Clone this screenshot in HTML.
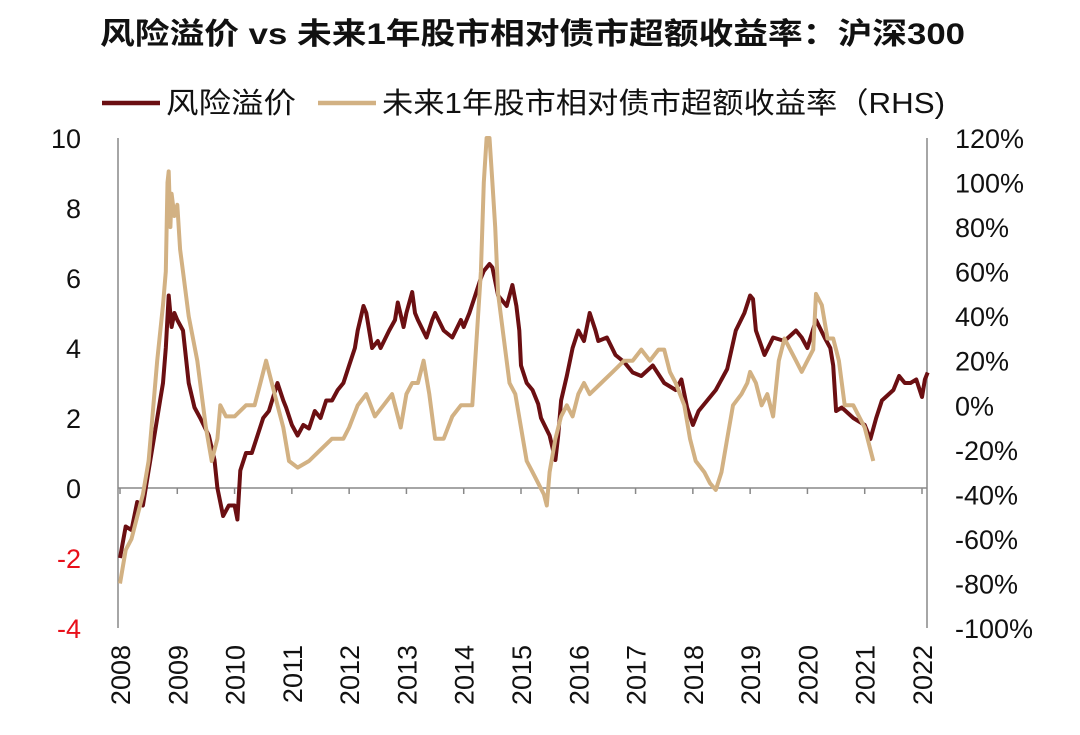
<!DOCTYPE html>
<html><head><meta charset="utf-8"><style>
body{margin:0;background:#fff;}
svg{display:block;font-family:"Liberation Sans","Noto Sans CJK SC",sans-serif;}
</style></head><body>
<svg id="chart" width="1080" height="735">
<text x="100" y="44" textLength="865" lengthAdjust="spacingAndGlyphs" font-size="30" font-weight="bold" fill="#111">风险溢价 vs 未来1年股市相对债市超额收益率：沪深300</text>
<g>
<line x1="102" y1="103" x2="160" y2="103" stroke="#6b0f12" stroke-width="4.5"/>
<text x="166" y="113" textLength="130" lengthAdjust="spacingAndGlyphs" font-size="29" fill="#111">风险溢价</text>
<line x1="318" y1="103" x2="376" y2="103" stroke="#d2b183" stroke-width="4.5"/>
<text x="382" y="113" textLength="563" lengthAdjust="spacingAndGlyphs" font-size="29" fill="#111">未来1年股市相对债市超额收益率（RHS)</text>
</g>
<g id="axes"></g>
<g id="series"></g>
</svg>
<script>
const leftTicks=[10,8,6,4,2,0,-2,-4];
const rightTicks=[120,100,80,60,40,20,0,-20,-40,-60,-80,-100];
const yearTicks=[2008,2009,2010,2011,2012,2013,2014,2015,2016,2017,2018,2019,2020,2021,2022];
const rpT=[2008.0,2008.1,2008.2,2008.3,2008.4,2008.5,2008.6,2008.7,2008.75,2008.8,2008.85,2008.9,2008.95,2009.0,2009.1,2009.2,2009.3,2009.4,2009.55,2009.65,2009.7,2009.8,2009.9,2010.0,2010.05,2010.1,2010.2,2010.3,2010.4,2010.5,2010.6,2010.75,2010.85,2010.9,2011.0,2011.1,2011.2,2011.3,2011.4,2011.5,2011.6,2011.7,2011.8,2011.9,2012.0,2012.1,2012.15,2012.25,2012.3,2012.4,2012.5,2012.55,2012.7,2012.8,2012.85,2012.95,2013.0,2013.1,2013.15,2013.2,2013.35,2013.45,2013.5,2013.65,2013.8,2013.95,2014.0,2014.1,2014.2,2014.3,2014.35,2014.45,2014.5,2014.6,2014.75,2014.85,2014.92,2014.97,2015.0,2015.1,2015.2,2015.3,2015.35,2015.5,2015.6,2015.65,2015.7,2015.8,2015.9,2016.0,2016.1,2016.2,2016.3,2016.35,2016.5,2016.65,2016.8,2016.95,2017.1,2017.3,2017.5,2017.7,2017.8,2017.9,2018.0,2018.1,2018.25,2018.4,2018.5,2018.6,2018.75,2018.9,2019.0,2019.05,2019.1,2019.25,2019.4,2019.6,2019.8,2019.9,2020.0,2020.15,2020.3,2020.4,2020.45,2020.5,2020.6,2020.8,2021.0,2021.1,2021.2,2021.3,2021.5,2021.6,2021.7,2021.8,2021.9,2022.0,2022.05,2022.1];
const rpV=[-2,-1.1,-1.2,-0.4,-0.5,0.5,1.5,2.5,3,4,5.5,4.6,5,4.8,4.5,3,2.3,2,1.5,0.8,0,-0.8,-0.5,-0.5,-0.9,0.5,1,1,1.5,2,2.2,3,2.5,2.3,1.8,1.5,1.8,1.7,2.2,2,2.5,2.5,2.8,3,3.5,4,4.5,5.2,5,4,4.2,4,4.5,4.8,5.3,4.6,5,5.6,5,4.8,4.3,4.8,5,4.5,4.3,4.8,4.6,5,5.5,6,6.2,6.4,6.3,5.5,5.2,5.8,5.2,4.5,3.5,3,2.8,2.4,2,1.5,0.8,1.5,2.5,3.2,4,4.5,4.2,5,4.5,4.2,4.3,3.8,3.6,3.3,3.2,3.5,3,2.8,3.1,2.3,1.8,2.2,2.5,2.8,3.1,3.4,4.5,5,5.5,5.4,4.5,3.8,4.3,4.2,4.5,4.3,4,4.8,4.3,4,3.5,2.2,2.3,2,1.8,1.4,2,2.5,2.8,3.2,3,3,3.1,2.6,3.1,3.3];
const erT=[2008.0,2008.1,2008.2,2008.3,2008.4,2008.5,2008.55,2008.65,2008.75,2008.8,2008.83,2008.85,2008.88,2008.9,2008.95,2009.0,2009.05,2009.1,2009.2,2009.35,2009.5,2009.6,2009.7,2009.75,2009.85,2010.0,2010.2,2010.35,2010.45,2010.55,2010.65,2010.75,2010.85,2010.95,2011.1,2011.3,2011.5,2011.7,2011.9,2012.0,2012.15,2012.3,2012.45,2012.6,2012.75,2012.9,2013.0,2013.1,2013.2,2013.3,2013.4,2013.5,2013.65,2013.8,2013.95,2014.05,2014.15,2014.2,2014.3,2014.35,2014.4,2014.45,2014.5,2014.55,2014.6,2014.7,2014.8,2014.9,2015.0,2015.1,2015.2,2015.3,2015.4,2015.45,2015.5,2015.6,2015.7,2015.8,2015.9,2016.0,2016.1,2016.2,2016.4,2016.6,2016.8,2016.95,2017.1,2017.25,2017.4,2017.5,2017.6,2017.7,2017.85,2017.95,2018.05,2018.2,2018.3,2018.4,2018.5,2018.6,2018.7,2018.85,2018.95,2019.0,2019.1,2019.2,2019.3,2019.4,2019.5,2019.6,2019.7,2019.8,2019.9,2020.0,2020.1,2020.15,2020.25,2020.35,2020.45,2020.55,2020.65,2020.8,2020.9,2021.0,2021.1,2021.15];
const erV=[-80,-65,-60,-50,-40,-25,-10,20,45,60,100,105,80,95,85,90,70,60,40,20,-10,-25,-15,0,-5,-5,0,0,10,20,10,0,-10,-25,-28,-25,-20,-15,-15,-10,0,5,-5,0,5,-10,5,10,10,20,5,-15,-15,-5,0,0,0,20,60,100,120,120,100,80,50,30,10,5,-10,-25,-30,-35,-40,-45,-30,-15,-5,0,-5,5,10,5,10,15,20,20,25,20,25,25,15,10,0,-15,-25,-30,-35,-38,-30,-15,0,5,10,15,10,0,5,-5,20,30,25,20,15,20,25,50,45,30,30,20,0,0,-5,-10,-20,-25];

const L=118,R=927,T=138,B=628;
const xS=y=>120+(y-2008)*(922-120)/14;
const yL=v=>T+(10-v)*(B-T)/14;
const yR=v=>T+(120-v)*(B-T)/220;
const ns="http://www.w3.org/2000/svg";
const axes=document.getElementById('axes'),series=document.getElementById('series');
function mk(tag,attrs,parent){const e=document.createElementNS(ns,tag);for(const k in attrs)e.setAttribute(k,attrs[k]);parent.appendChild(e);return e;}
let e=mk('line',{x1:L,y1:T,x2:L,y2:B,stroke:'#888','stroke-width':1.5},axes);


e=mk('line',{x1:R,y1:T,x2:R,y2:B,stroke:'#888','stroke-width':1.5},axes);


e=mk('line',{x1:L,y1:yL(0),x2:R,y2:yL(0),stroke:'#888','stroke-width':1.5},axes);


leftTicks.forEach(v=>{
 const t=mk('text',{x:81,y:yL(v)+10,'text-anchor':'end','font-size':27,fill:v<0?'#e8101a':'#111'},axes);
 t.textContent=v;
 
 
});
rightTicks.forEach(v=>{
 const t=mk('text',{x:955,y:yR(v)+10,'font-size':27,fill:'#111'},axes);
 t.textContent=v+'%';
 
 
});
yearTicks.forEach(y=>{
 const x=xS(y);
 const tk=mk('line',{x1:x,y1:yL(0),x2:x,y2:yL(0)+6,stroke:'#888','stroke-width':1.5},axes);
 
 
 const t=mk('text',{x:0,y:0,'font-size':27,fill:'#111','text-anchor':'end',transform:`translate(${x+10},645) rotate(-90)`},axes);
 t.textContent=y;
 
 
});
function path(ts,vs,ys){return ts.map((t,i)=>(i?'L':'M')+xS(t).toFixed(1)+','+ys(vs[i]).toFixed(1)).join('');}
e=mk('path',{d:path(rpT,rpV,yL),fill:'none',stroke:'#6b0f12','stroke-width':4,'stroke-linejoin':'round'},series);


e=mk('path',{d:path(erT,erV,yR),fill:'none',stroke:'#d2b183','stroke-width':4,'stroke-linejoin':'round'},series);


</script>
</body></html>
